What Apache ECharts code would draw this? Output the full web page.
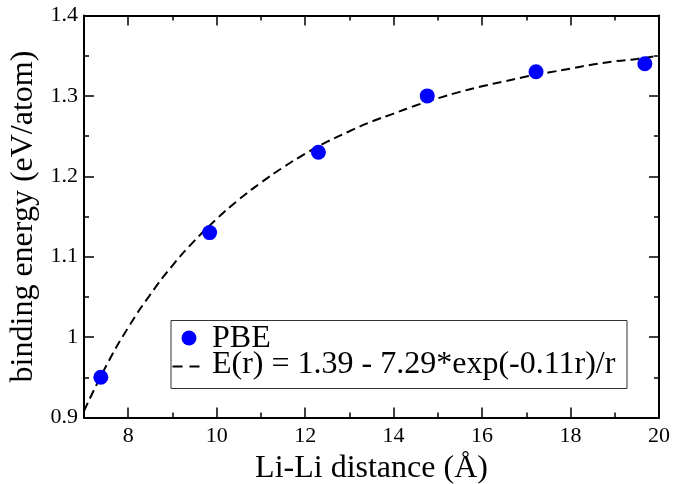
<!DOCTYPE html>
<html>
<head>
<meta charset="utf-8">
<script src="https://cdn.jsdelivr.net/npm/echarts@6/dist/echarts.min.js"></script>
<style>
  html, body { margin: 0; padding: 0; background: #fff; }
  #chart { width: 673px; height: 484px; }
</style>
</head>
<body>
<div id="chart"></div>
<script>
// PBE binding energies of the Li chain vs. Li-Li separation
const distances = [7.38, 9.84, 12.30, 14.76, 17.22, 19.68];
const pbeEnergies = [0.95, 1.13, 1.23, 1.30, 1.33, 1.34];

// Fitted curve E(r) = 1.39 - 7.29*exp(-0.11r)/r, tabulated every 0.5 Å
const fitR = [7, 7.5, 8, 8.5, 9, 9.5, 10, 10.5, 11, 11.5, 12, 12.5, 13, 13.5,
              14, 14.5, 15, 15.5, 16, 16.5, 17, 17.5, 18, 18.5, 19, 19.5, 20];
const fitE = [0.908, 0.964, 1.012, 1.053, 1.089, 1.120, 1.147, 1.171, 1.192, 1.211,
              1.228, 1.243, 1.256, 1.268, 1.278, 1.288, 1.297, 1.305, 1.312, 1.318,
              1.324, 1.329, 1.334, 1.339, 1.343, 1.346, 1.350];

// Axis ticks
const xMajorTicks = [8, 10, 12, 14, 16, 18, 20];
const xMinorTicks = [9, 11, 13, 15, 17, 19];

const pbeName = 'PBE';
const fitName = 'E(r) = 1.39 - 7.29*exp(-0.11r)/r';

const FONT = 'Liberation Serif';
const black = '#000';
const blue = '#0000ff';

function xAxisDef(position, ticks, len, showLine, withLabels) {
  return {
    type: 'value', position: position, min: 7, max: 20,
    axisLine: { show: showLine, onZero: false, lineStyle: { color: black, width: 2 } },
    axisTick: { show: true, inside: true, length: len, customValues: ticks,
                lineStyle: { color: black, width: 1.5 } },
    axisLabel: withLabels
      ? { show: true, customValues: ticks, color: black, fontFamily: FONT, fontSize: 22, margin: 8 }
      : { show: false },
    splitLine: { show: false },
    minorTick: { show: false }
  };
}

function yAxisDef(position, showLabels) {
  return {
    type: 'value', position: position, min: 0.9, max: 1.4, interval: 0.1,
    axisLine: { show: true, onZero: false, lineStyle: { color: black, width: 2 } },
    axisTick: { show: true, inside: true, length: 10, lineStyle: { color: black, width: 1.5 } },
    minorTick: { show: true, splitNumber: 2, length: 5, lineStyle: { color: black, width: 1.5 } },
    axisLabel: showLabels
      ? { show: true, color: black, fontFamily: FONT, fontSize: 22, margin: 6 }
      : { show: false },
    splitLine: { show: false },
    minorSplitLine: { show: false }
  };
}

const bottomAxis = xAxisDef('bottom', xMajorTicks, 10, true, true);
bottomAxis.name = 'Li-Li distance (Å)';
bottomAxis.nameLocation = 'middle';
bottomAxis.nameGap = 47;
bottomAxis.nameTextStyle = { color: black, fontFamily: FONT, fontSize: 32, verticalAlign: 'middle' };

const leftAxis = yAxisDef('left', true);
leftAxis.name = 'binding energy (eV/atom)';
leftAxis.nameLocation = 'middle';
leftAxis.nameGap = 56;
leftAxis.nameTextStyle = { color: black, fontFamily: FONT, fontSize: 32, verticalAlign: 'middle' };

// Boxed legend drawn inside the plot area
const legendBox = { left: 170, top: 320, width: 456, height: 68 };
const legendFont = '32px "' + FONT + '"';
const legendGraphic = {
  type: 'group',
  left: legendBox.left, top: legendBox.top,
  z: 100,
  children: [
    { type: 'rect', shape: { x: 0, y: 0, width: legendBox.width, height: legendBox.height },
      style: { fill: '#fff', stroke: '#333', lineWidth: 1 } },
    { type: 'circle', shape: { cx: 18, cy: 17.5, r: 7.5 }, style: { fill: blue } },
    { type: 'text', x: 41, y: 18,
      style: { text: pbeName, font: legendFont, fill: black, verticalAlign: 'middle' } },
    { type: 'line', shape: { x1: 1.5, y1: 46, x2: 29, y2: 46 },
      style: { stroke: black, lineWidth: 2, lineDash: [10, 7] } },
    { type: 'text', x: 41, y: 44,
      style: { text: fitName, font: legendFont, fill: black, verticalAlign: 'middle' } }
  ]
};

const chart = echarts.init(document.getElementById('chart'), null, { renderer: 'canvas' });
chart.setOption({
  animation: false,
  backgroundColor: '#fff',
  grid: { left: 84, right: 14, top: 15.5, bottom: 66.5, containLabel: false, outerBoundsMode: 'none' },
  xAxis: [
    bottomAxis,
    xAxisDef('bottom', xMinorTicks, 5, false, false),
    xAxisDef('top', xMajorTicks, 10, true, false),
    xAxisDef('top', xMinorTicks, 5, false, false)
  ],
  yAxis: [
    leftAxis,
    yAxisDef('right', false)
  ],
  graphic: [legendGraphic],
  series: [
    {
      name: fitName,
      type: 'line',
      xAxisIndex: 0, yAxisIndex: 0,
      data: fitR.map((r, i) => [r, fitE[i]]),
      smooth: true,
      showSymbol: false,
      symbol: 'none',
      clip: true,
      lineStyle: { color: black, width: 2, type: [9, 5] },
      z: 2
    },
    {
      name: pbeName,
      type: 'scatter',
      xAxisIndex: 0, yAxisIndex: 0,
      data: distances.map((r, i) => [r, pbeEnergies[i]]),
      symbol: 'circle',
      symbolSize: 15,
      itemStyle: { color: blue, opacity: 1 },
      z: 3
    }
  ]
});
</script>
</body>
</html>
